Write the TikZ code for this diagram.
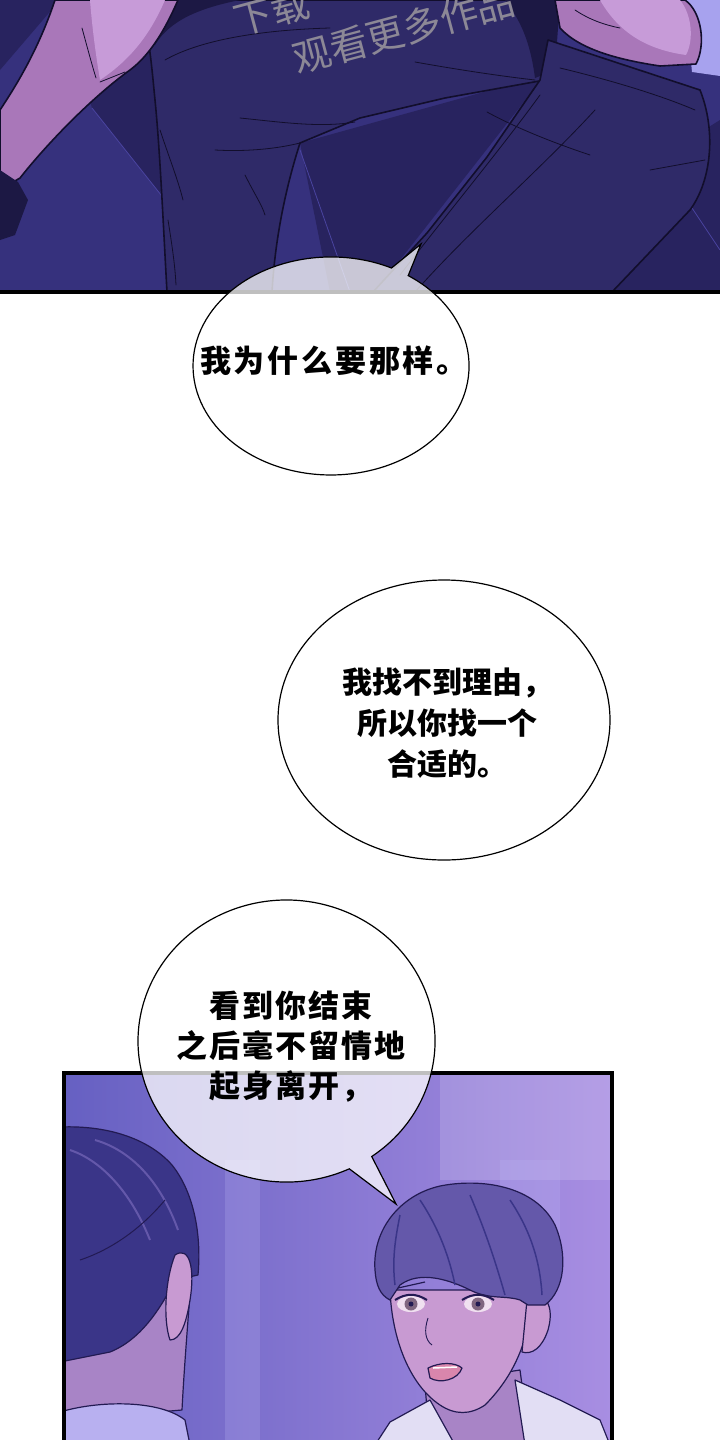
\documentclass[tikz,border=0pt]{standalone}
\usepackage{fontspec}
\usepackage{xcolor}
\newfontfamily\cjk{Noto Sans CJK SC}
\newfontfamily\cjkwide{Noto Sans CJK SC}[LetterSpace=9]
\newfontfamily\cjkmid{Noto Sans CJK SC}[LetterSpace=6]
\usetikzlibrary{positioning}

\definecolor{floorbase}{HTML}{36317D}
\definecolor{floordark}{HTML}{28235F}
\definecolor{floorseam}{HTML}{4A44A0}
\definecolor{pants}{HTML}{2F2A68}
\definecolor{pantsdeep}{HTML}{1C1844}
\definecolor{inkline}{HTML}{120E2C}
\definecolor{armskin}{HTML}{A977B9}
\definecolor{armlight}{HTML}{C79BD8}
\definecolor{sleeve}{HTML}{A7A2EE}
\definecolor{wmgrey}{HTML}{8C8896}
\definecolor{roomleft}{HTML}{6660C2}
\definecolor{roomright}{HTML}{A88EE2}
\definecolor{roomglow}{HTML}{B8B0F0}
\definecolor{hairdark}{HTML}{3A3588}
\definecolor{hairmid}{HTML}{6458AA}
\definecolor{skin}{HTML}{C89AD2}
\definecolor{skinshade}{HTML}{A884C6}
\definecolor{shirt}{HTML}{E2DEF4}
\definecolor{figline}{HTML}{221A52}

\begin{document}
\begin{tikzpicture}[
    x=1pt, y=-1pt,
    bubble/.style={draw=black, line width=1.2pt, fill=white, fill opacity=0.75},
    say/.style={font=\cjk\bfseries\fontsize{30}{41}\selectfont, align=center, text=black},
    wmtext/.style={font=\cjk\fontsize{38}{52}\selectfont, text=wmgrey, rotate=15, align=left, inner sep=0pt},
    edge/.style={draw=inkline, line width=1.6pt, line join=round},
    crease/.style={draw=inkline, line width=0.8pt, line cap=round},
    figure/.style={draw=figline, line width=1.2pt, line join=round}
]
    \useasboundingbox (0,0) rectangle (720,1440);
    \fill[white] (0,0) rectangle (720,1440);

    % Top panel: floor
    \begin{scope}
        \clip (0,0) rectangle (720,292);
        \fill[floorbase] (0,0) rectangle (720,292);
        \fill[floordark] (0,0) -- (60,0) -- (0,70) -- cycle;
        \fill[floordark] (60,0) -- (170,0) -- (165,200) -- (92,108) -- cycle;
        \fill[floordark] (300,143) -- (545,75) -- (375,292) -- (330,292) -- cycle;
        \fill[floordark] (640,170) -- (720,120) -- (720,292) -- (610,292) -- cycle;
        \draw[floorseam, line width=0.8pt] (92,108) -- (165,200);
        \draw[floorseam, line width=0.8pt] (300,150) -- (350,292);
        \draw[floorseam, line width=0.8pt] (690,205) -- (720,250);

        % Top panel: trousers
        \path[edge, fill=pants] (140,0) -- (548,0) -- (545,80) -- (445,98) -- (360,118) -- (300,143)
            .. controls (285,190) and (275,240) .. (272,292) -- (167,292)
            .. controls (163,220) and (160,150) .. (155,100)
            .. controls (152,70) and (150,40) .. (140,0) -- cycle;
        \fill[pantsdeep] (140,0) -- (240,0) .. controls (200,8) and (170,20) .. (155,45) -- cycle;
        \fill[pantsdeep] (505,0) -- (560,0) -- (555,70) -- (535,78) .. controls (530,40) and (520,20) .. (505,0);
        \path[edge, fill=pants] (548,40) -- (700,90) .. controls (716,130) and (712,180) .. (690,210)
            -- (612,292) -- (373,292) -- (427,233) -- (487,157) -- (540,80) -- cycle;
        \draw[crease] (165,60) .. controls (200,40) and (260,30) .. (330,28);
        \draw[crease] (240,118) .. controls (280,122) and (320,128) .. (355,122);
        \draw[crease] (215,150) .. controls (250,152) and (280,148) .. (300,143);
        \draw[crease] (160,130) .. controls (170,160) and (178,180) .. (183,200);
        \draw[crease] (245,175) .. controls (255,195) and (262,205) .. (265,215);
        \draw[crease] (168,220) .. controls (172,245) and (175,265) .. (176,285);
        \draw[crease] (415,62) .. controls (460,70) and (500,76) .. (535,80);
        \draw[crease] (487,112) .. controls (520,130) and (560,145) .. (590,155);
        \draw[crease] (560,68) .. controls (610,80) and (660,95) .. (695,110);
        \draw[crease] (650,170) -- (705,160);
        \draw[crease] (595,110) .. controls (540,170) and (470,230) .. (415,292);
        \draw[crease] (540,95) .. controls (500,150) and (450,210) .. (400,275);

        % Top panel: arm, hand and sleeve
        \path[edge, fill=armskin] (55,0) -- (178,0) .. controls (165,30) and (150,55) .. (130,70)
            .. controls (95,95) and (50,140) .. (20,178) -- (8,185) -- (0,175) -- (0,110)
            .. controls (20,80) and (40,45) .. (55,0) -- cycle;
        \fill[armlight] (90,0) -- (165,0) .. controls (150,35) and (130,60) .. (100,80)
            .. controls (95,50) and (92,25) .. (90,0);
        \draw[crease] (82,28) .. controls (88,50) and (92,65) .. (96,78);
        \draw[crease] (100,82) -- (125,72);
        \fill[pantsdeep] (0,170) -- (18,182) -- (28,200) -- (15,235) -- (0,240) -- cycle;
        \fill[sleeve] (685,0) -- (720,0) -- (720,76) -- (692,72) -- cycle;
        \path[edge, fill=armskin] (555,0) -- (685,0) .. controls (702,12) and (706,45) .. (696,64)
            -- (660,66) .. controls (620,60) and (580,50) .. (560,28) -- cycle;
        \fill[armlight] (600,0) -- (680,0) .. controls (692,15) and (694,40) .. (686,55)
            .. controls (650,50) and (620,35) .. (600,0);
        \draw[crease] (575,10) .. controls (590,20) and (605,25) .. (620,28);

        % Top panel: watermark
        \node[wmtext, anchor=north west] (watermark) at (230,4) {下载\\\hspace*{47pt}观看更多作品};
    \end{scope}
    \draw[line width=4pt] (0,292) -- (720,292);

    % Bubbles on white
    \draw[bubble] (421,244) -- (408.2,275.6)
        arc[start angle=-56, end angle=296, x radius=138, y radius=109] -- cycle;
    \draw[bubble] (444,720) ellipse [x radius=166, y radius=140];

    % Bottom panel: room
    \begin{scope}
        \clip (64,1073) rectangle (612,1440);
        \shade[left color=roomleft, right color=roomright] (64,1073) rectangle (612,1440);
        \fill[white, opacity=0.15] (440,1073) rectangle (612,1180);
        \fill[roomglow, opacity=0.25] (225,1160) rectangle (260,1440);
        \fill[roomglow, opacity=0.3] (500,1160) rectangle (560,1260);

        % Bottom panel: man seen from behind
        \path[figure, fill=skinshade] (60,1355) -- (110,1350) .. controls (140,1335) and (160,1310) .. (175,1280)
            -- (192,1268) .. controls (188,1320) and (184,1370) .. (182,1410) -- (60,1420) -- cycle;
        \path[figure, fill=hairdark] (60,1127) .. controls (110,1125) and (150,1140) .. (172,1165)
            .. controls (192,1190) and (202,1230) .. (198,1275) -- (175,1280)
            .. controls (160,1310) and (140,1340) .. (110,1352) -- (60,1362) -- cycle;
        \draw[draw=hairmid, line width=2pt] (70,1150) .. controls (100,1160) and (130,1190) .. (150,1240);
        \draw[draw=hairmid, line width=2pt] (95,1140) .. controls (130,1150) and (160,1180) .. (178,1230);
        \draw[draw=figline, line width=1pt] (80,1260) .. controls (110,1250) and (140,1230) .. (165,1200);
        \path[figure, fill=skin] (175,1255) .. controls (190,1245) and (195,1270) .. (190,1300)
            .. controls (186,1325) and (180,1340) .. (170,1340) .. controls (163,1320) and (165,1280) .. (175,1255);
        \path[figure, fill=roomglow] (60,1412) .. controls (100,1400) and (160,1400) .. (185,1420)
            -- (190,1445) -- (60,1445) -- cycle;

        % Bottom panel: man facing us
        \path[figure, fill=skinshade] (425,1385) -- (520,1370) -- (530,1445) -- (430,1445) -- cycle;
        \path[figure, fill=shirt] (375,1445) -- (390,1422) -- (430,1400) -- (455,1445) -- cycle;
        \path[figure, fill=shirt] (515,1380) -- (560,1400) -- (600,1420) -- (610,1445) -- (525,1445) -- cycle;
        \path[figure, fill=skin] (390,1290) .. controls (392,1340) and (410,1385) .. (440,1405)
            .. controls (455,1415) and (470,1415) .. (485,1405)
            .. controls (505,1385) and (520,1360) .. (527,1330) -- (530,1290) -- cycle;
        \path[figure, fill=skin] (527,1300) .. controls (545,1290) and (555,1305) .. (548,1330)
            .. controls (542,1348) and (532,1355) .. (522,1352) -- cycle;
        \path[figure, fill=hairmid] (375,1270) .. controls (372,1230) and (400,1195) .. (440,1186)
            .. controls (480,1178) and (535,1185) .. (555,1225)
            .. controls (568,1255) and (565,1290) .. (545,1305) -- (528,1305) -- (520,1300)
            .. controls (505,1295) and (490,1300) .. (470,1290)
            .. controls (450,1280) and (420,1270) .. (400,1285) -- (390,1300)
            .. controls (380,1295) and (376,1285) .. (375,1270) -- cycle;
        \draw[draw=hairdark, line width=1.5pt] (420,1200) .. controls (440,1230) and (450,1260) .. (455,1285);
        \draw[draw=hairdark, line width=1.5pt] (470,1195) .. controls (485,1230) and (495,1260) .. (505,1295);
        \draw[draw=hairdark, line width=1.5pt] (400,1215) .. controls (395,1240) and (392,1260) .. (395,1285);
        \draw[draw=hairdark, line width=1.5pt] (510,1200) .. controls (530,1230) and (540,1260) .. (542,1295);
        % eyes
        \foreach \ex in {411,478} {
            \fill[white!88!violet] (\ex,1304) ellipse [x radius=14, y radius=8];
            \fill[gray!80!violet] (\ex,1304) circle [radius=6.5];
            \fill[figline] (\ex,1304) circle [radius=2.5];
            \draw[figline, line width=2pt] (\ex-16,1300) .. controls (\ex-5,1293) and (\ex+5,1293) .. (\ex+16,1300);
        }
        \draw[figure] (398,1288) -- (425,1282);
        \draw[figure, line width=0.9pt] (428,1318) .. controls (424,1330) and (425,1340) .. (432,1345);
        \path[figure, fill=pink!70!violet] (428,1368) .. controls (440,1362) and (455,1362) .. (462,1368)
            .. controls (458,1380) and (440,1384) .. (430,1378) -- cycle;
        \draw[white, line width=1.5pt] (433,1368) -- (457,1367);
    \end{scope}
    \draw[line width=4pt] (64,1073) rectangle (612,1450);

    % Bubble over the bottom panel
    \draw[bubble] (396,1204) -- (349.3,1168.8)
        arc[start angle=65, end angle=415, x radius=148.5, y radius=141] -- cycle;

    % Texts
    \node[say, font=\cjkwide\bfseries\fontsize{31}{41}\selectfont] (why) at (334,361) {我为什么要那样。};
    \node[say] (noreason) at (447,723) {我找不到理由，\\所以你找一个\\合适的。};
    \node[say, font=\cjkmid\bfseries\fontsize{31}{40}\selectfont] (leaving) at (291,1047) {看到你结束\\之后毫不留情地\\起身离开，};
\end{tikzpicture}
\end{document}
